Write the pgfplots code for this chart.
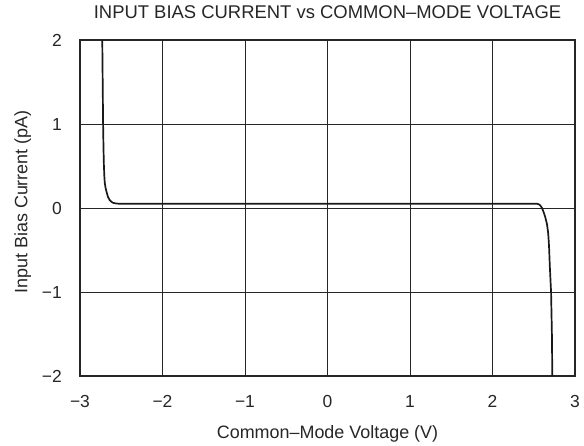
\documentclass[border=0pt]{standalone}
\usepackage{pgfplots}
\pgfplotsset{compat=1.18}
\usepackage{fontspec}
\setmainfont{Liberation Sans}
\begin{document}
\begin{tikzpicture}
\begin{axis}[
  scale only axis,
  width=495bp, height=336bp,
  xmin=-3, xmax=3, ymin=-2, ymax=2,
  xtick={-3,-2,-1,0,1,2,3},
  xticklabels={−3,−2,−1,0,1,2,3},
  ytick={-2,-1,0,1,2},
  yticklabels={−2,−1,0,1,2},
  grid=major,
  major grid style={black!85, line width=0.6pt},
  major tick length=0pt,
  axis line style={line width=1.5pt, black!85},
  tick label style={font=\fontsize{17.5}{20}\selectfont, text=black!85, inner sep=0pt},
  xticklabel style={anchor=center, yshift=-25bp},
  yticklabel style={anchor=east, xshift=-18bp},
  title={INPUT BIAS CURRENT vs COMMON--MODE VOLTAGE},
  title style={font=\fontsize{18.5}{21}\selectfont, text=black!85, inner sep=0pt,
    at={(axis description cs:0.5,1)}, anchor=base, yshift=16bp},
  xlabel={Common--Mode Voltage (V)},
  xlabel style={font=\fontsize{18}{21}\selectfont, text=black!85, inner sep=0pt,
    at={(axis description cs:0.5,0)}, anchor=base, yshift=-62bp},
  ylabel={Input Bias Current (pA)},
  ylabel style={font=\fontsize{18}{21}\selectfont, text=black!85, inner sep=0pt,
    at={(axis description cs:-0.10646,0.518)}, anchor=base},
]
\addplot[black!90, line width=1.7pt] coordinates {
  (-2.73,2.0) (-2.725,1.5) (-2.72,1.0) (-2.715,0.7) (-2.71,0.5) (-2.705,0.38) (-2.70,0.30)
  (-2.69,0.24) (-2.675,0.18) (-2.66,0.13) (-2.64,0.095) (-2.62,0.075) (-2.6,0.062) (-2.57,0.055) (-2.52,0.05)
  (0,0.05) (2.54,0.05) (2.56,0.045) (2.58,0.03) (2.60,0.0) (2.62,-0.05) (2.64,-0.11) (2.66,-0.19) (2.675,-0.3)
  (2.685,-0.45) (2.695,-0.7) (2.71,-1.0) (2.72,-1.5) (2.725,-2.0)
};
\end{axis}
\pgfresetboundingbox
\path[use as bounding box] ([shift={(-80bp,-69bp)}]current axis.south west) rectangle ([shift={(9bp,40bp)}]current axis.north east);
\end{tikzpicture}
\end{document}
